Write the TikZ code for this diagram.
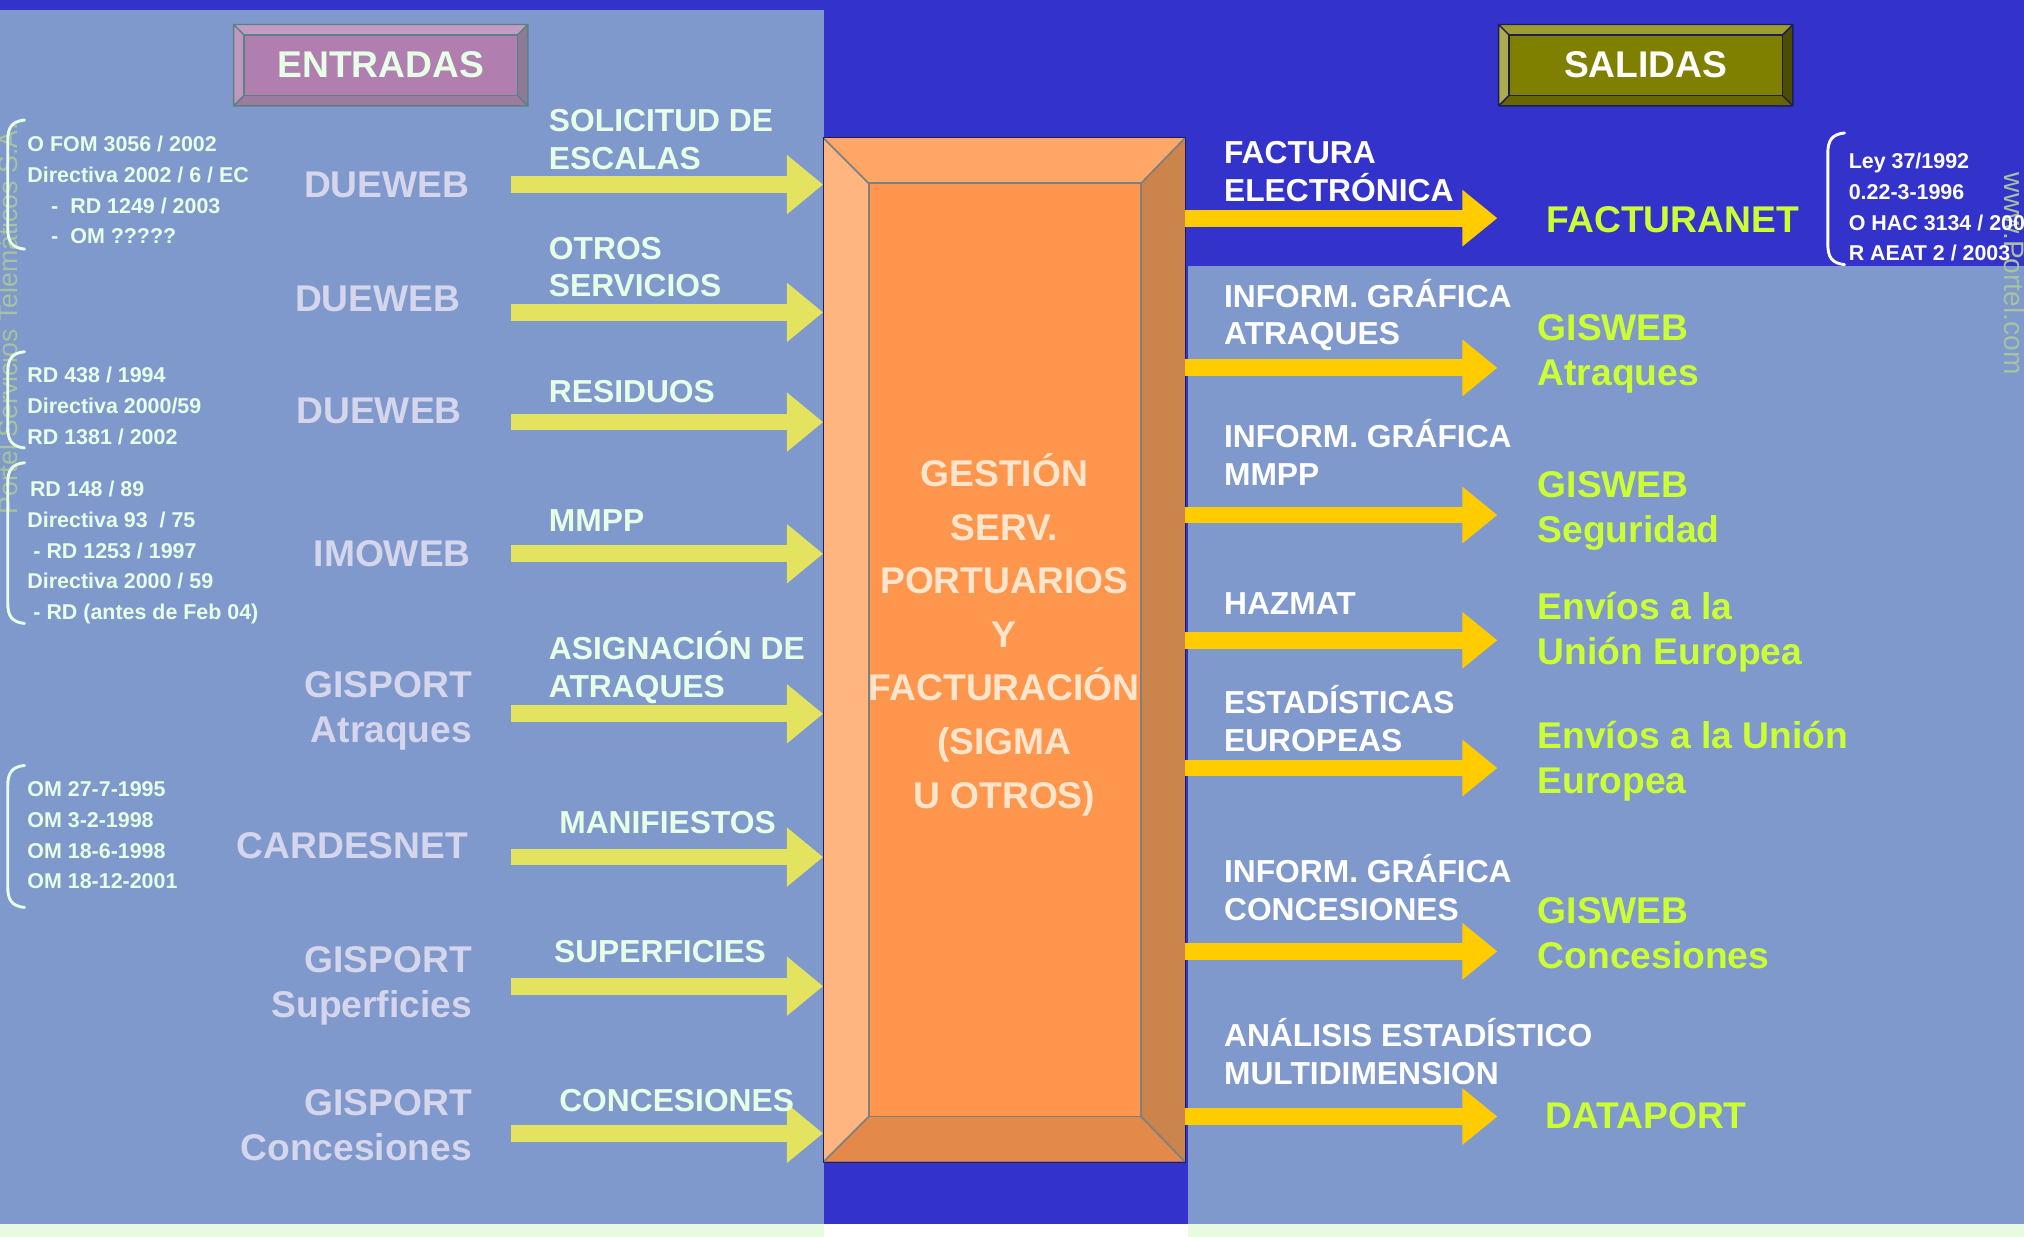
\documentclass[tikz,border=0pt]{standalone}
\usepackage{fontspec}
\setmainfont{Liberation Sans}
\usetikzlibrary{arrows.meta}

\begin{document}
\begin{tikzpicture}[x=0.025cm,y=-0.025cm,line cap=round,line join=round,
  inlabel/.style={anchor=base west,inner sep=0pt,align=left,text=labeltext,
    font=\bfseries\fontsize{17.5}{20.8}\selectfont},
  outlabel/.style={inlabel,text=white},
  sysname/.style={anchor=base east,inner sep=0pt,align=right,text=systext,
    font=\bfseries\fontsize{20.5}{24.8}\selectfont},
  outname/.style={anchor=base west,inner sep=0pt,align=left,text=resulttext,
    font=\bfseries\fontsize{20.5}{24.8}\selectfont},
  lawtext/.style={anchor=base west,inner sep=0pt,align=left,text=labeltext,
    font=\bfseries\fontsize{11.8}{16.9}\selectfont},
  lawbrace/.style={draw=labeltext,line width=1.6pt},
  watermark/.style={inner sep=0pt,text=markgreen,font=\fontsize{14.7}{16}\selectfont},
  inarrow/.style={draw=inyellow,line width=3.25mm,line cap=butt,
    -{Triangle[length=7mm,width=11mm]}},
  outarrow/.style={draw=outgold,line width=3.25mm,line cap=butt,
    -{Triangle[length=6.75mm,width=10.5mm]}}]
\definecolor{bgblue}{HTML}{3333CC}
\definecolor{panel}{HTML}{7F99CC}
\definecolor{stripgreen}{HTML}{E6FBE0}
\definecolor{inyellow}{HTML}{E3E35F}
\definecolor{outgold}{HTML}{FFCC00}
\definecolor{labeltext}{HTML}{E6FFE6}
\definecolor{systext}{HTML}{D5D5EC}
\definecolor{resulttext}{HTML}{CCFF33}
\definecolor{markgreen}{HTML}{A6C29E}
\definecolor{coretext}{HTML}{FFE5CC}
\definecolor{corefront}{HTML}{FF964D}
\definecolor{coretop}{HTML}{FFA766}
\definecolor{coreleft}{HTML}{FFB57F}
\definecolor{coreright}{HTML}{CC844D}
\definecolor{corebottom}{HTML}{E38A4A}
\definecolor{coreedge}{HTML}{7F7F7F}
\definecolor{entmid}{HTML}{B07FB0}
\definecolor{enttop}{HTML}{C49BC4}
\definecolor{entbot}{HTML}{9B7B9F}
\definecolor{entleft}{HTML}{BE98BE}
\definecolor{entright}{HTML}{8C7A96}
\definecolor{entedge}{HTML}{5A8282}
\definecolor{salmid}{HTML}{808000}
\definecolor{saltop}{HTML}{9C9C33}
\definecolor{salbot}{HTML}{666600}
\definecolor{salleft}{HTML}{ABAB50}
\definecolor{salright}{HTML}{4D4D00}
\definecolor{saledge}{HTML}{1F1F4F}

\useasboundingbox (0,0) rectangle (1568,958);
\fill[bgblue] (0,0) rectangle (1568,958);
\fill[panel] (0,8) rectangle (638,948);
\fill[panel] (920,206) rectangle (1568,948);
\fill[stripgreen] (0,948) rectangle (1568,958);
\fill[white] (638,948) rectangle (920,958);

\node[watermark,rotate=90] (wmleft) at (6,247) {Portel Servicios Telemáticos S.A.};
\node[watermark,rotate=-90,font=\fontsize{15.5}{16}\selectfont] (wmright) at (1561,212) {www.Portel.com};

% title boxes
\foreach \x/\boxname/\boxtext/\bxmid/\bxtop/\bxbot/\bxleft/\bxright/\bxedge/\bxink in
  {181/entradas/ENTRADAS/entmid/enttop/entbot/entleft/entright/entedge/labeltext,
   1161/salidas/SALIDAS/salmid/saltop/salbot/salleft/salright/saledge/white} {
  \begin{scope}[shift={(\x,19)}]
    \fill[\bxtop] (0,0) -- (228,0) -- (220,8) -- (8,8) -- cycle;
    \fill[\bxbot] (0,63) -- (228,63) -- (220,55) -- (8,55) -- cycle;
    \fill[\bxleft] (0,0) -- (8,8) -- (8,55) -- (0,63) -- cycle;
    \fill[\bxright] (228,0) -- (228,63) -- (220,55) -- (220,8) -- cycle;
    \filldraw[fill=\bxmid,draw=\bxedge,line width=0.8pt] (8,8) rectangle (220,55);
    \draw[\bxedge,line width=0.8pt] (0,0) rectangle (228,63)
      (0,0) -- (8,8) (228,0) -- (220,8) (0,63) -- (8,55) (228,63) -- (220,55);
    \node[text=\bxink,font=\bfseries\fontsize{20.5}{24}\selectfont,inner sep=0pt]
      (\boxname) at (114,31.5) {\boxtext};
  \end{scope}
}

% central block
\node[inner sep=0pt,minimum width=7cm,minimum height=19.825cm] (gestion) at (778,503.5) {};
\fill[coretop] (638,107) -- (918,107) -- (884,142) -- (673,142) -- cycle;
\fill[coreleft] (638,107) -- (673,142) -- (673,865) -- (638,900) -- cycle;
\fill[coreright] (918,107) -- (918,900) -- (884,865) -- (884,142) -- cycle;
\fill[corebottom] (638,900) -- (918,900) -- (884,865) -- (673,865) -- cycle;
\filldraw[fill=corefront,draw=coreedge,line width=1pt] (673,142) rectangle (884,865);
\draw[coreedge,line width=1pt] (638,107) -- (673,142) (918,107) -- (884,142)
  (638,900) -- (673,865) (918,900) -- (884,865);
\draw[saledge,line width=0.6pt] (gestion.north west) rectangle (gestion.south east);
\node[anchor=base,align=center,inner sep=0pt,text=coretext,
  font=\bfseries\fontsize{20.5}{29.5}\selectfont] (gestiontxt) at (778,626)
  {GESTIÓN\\SERV.\\PORTUARIOS\\Y\\FACTURACIÓN\\(SIGMA\\U OTROS)};

% inputs
\foreach \y [count=\i] in {143,242,327,429,553,664,764,878} {
  \coordinate (in\i) at (396,\y);
  \draw[inarrow] (in\i) -- (in\i -| gestion.west);
}
\node[inlabel] (solicitud) at (425,131) {SOLICITUD DE\\ESCALAS};
\node[inlabel] (otros) at (425,230) {OTROS\\SERVICIOS};
\node[inlabel] (residuos) at (425,312) {RESIDUOS};
\node[inlabel] (mmpp) at (425,412) {MMPP};
\node[inlabel] (asignacion) at (425,540) {ASIGNACIÓN DE\\ATRAQUES};
\node[inlabel] (manifiestos) at (433,646) {MANIFIESTOS};
\node[inlabel] (superficies) at (429,746) {SUPERFICIES};
\node[inlabel] (concesiones) at (433,861) {CONCESIONES};

\node[sysname] (dueweba) at (364,153) {DUEWEB};
\node[sysname] (duewebb) at (357,241) {DUEWEB};
\node[sysname] (duewebc) at (358,328) {DUEWEB};
\node[sysname] (imoweb) at (365,439) {IMOWEB};
\node[sysname] (gisatraques) at (366,575) {GISPORT\\Atraques};
\node[sysname] (cardesnet) at (363,665) {CARDESNET};
\node[sysname] (gissuperficies) at (366,788) {GISPORT\\Superficies};
\node[sysname] (gisconcesiones) at (366,899) {GISPORT\\Concesiones};

\foreach \ya/\yb in {93/193,272.5/347,358.5/483,593/703} {
  \draw[lawbrace] (19,\ya) .. controls (9,\ya+1) and (6,\ya+6) .. (6,\ya+16)
    -- (6,\yb-16) .. controls (6,\yb-6) and (9,\yb-1) .. (19,\yb);
}
\node[lawtext] (lawescalas) at (21,188.8)
  {O FOM 3056 / 2002\\Directiva 2002 / 6 / EC\\
   \hspace*{13pt}-\hspace*{6.7pt}RD 1249 / 2003\\\hspace*{13pt}-\hspace*{6.7pt}OM ?????};
\node[lawtext] (lawresiduos) at (21,344)
  {RD 438 / 1994\\Directiva 2000/59\\RD 1381 / 2002};
\node[lawtext] (lawmmpp) at (21,480)
  {\hspace*{1.4pt}RD 148 / 89\\Directiva 93\ \ / 75\\\hspace*{3.3pt}- RD 1253 / 1997\\
   Directiva 2000 / 59\\\hspace*{3.3pt}- RD (antes de Feb 04)};
\node[lawtext] (lawmanifiestos) at (21,688.6)
  {OM 27-7-1995\\OM 3-2-1998\\OM 18-6-1998\\OM 18-12-2001};

% outputs
\foreach \y [count=\i] in {169,285,399,496,595,737,865} {
  \coordinate (out\i) at (1160,\y);
  \draw[outarrow] (out\i -| gestion.east) -- (out\i);
}
\node[outlabel] (factura) at (948,156.2) {FACTURA\\ELECTRÓNICA};
\node[outlabel] (infatraques) at (948,267.2) {INFORM. GRÁFICA\\ATRAQUES};
\node[outlabel] (infmmpp) at (948,376) {INFORM. GRÁFICA\\MMPP};
\node[outlabel] (hazmat) at (948,476) {HAZMAT};
\node[outlabel] (estadisticas) at (948,582.2) {ESTADÍSTICAS\\EUROPEAS};
\node[outlabel] (infconcesiones) at (948,713.2) {INFORM. GRÁFICA\\CONCESIONES};
\node[outlabel] (analisis) at (948,840.2) {ANÁLISIS ESTADÍSTICO\\MULTIDIMENSION};

\node[outname] (facturanet) at (1198,180.5) {FACTURANET};
\node[outname] (giswebatraques) at (1191,298.9) {GISWEB\\Atraques};
\node[outname] (giswebseguridad) at (1191,420.4) {GISWEB\\Seguridad};
\node[outname] (enviosa) at (1191,514.9) {Envíos a la\\Unión Europea};
\node[outname] (enviosb) at (1191,614.4) {Envíos a la Unión\\Europea};
\node[outname] (giswebconcesiones) at (1191,750.2) {GISWEB\\Concesiones};
\node[outname] (dataport) at (1197,874) {DATAPORT};

\draw[lawbrace,draw=white] (1429,103) .. controls (1419,104) and (1416,109) .. (1416,119)
  -- (1416,189) .. controls (1416,199) and (1419,204) .. (1429,205);
\node[lawtext,text=white] (lawfactura) at (1432,202)
  {Ley 37/1992\\0.22-3-1996\\O HAC 3134 / 2003\\R AEAT 2 / 2003};
\end{tikzpicture}
\end{document}
